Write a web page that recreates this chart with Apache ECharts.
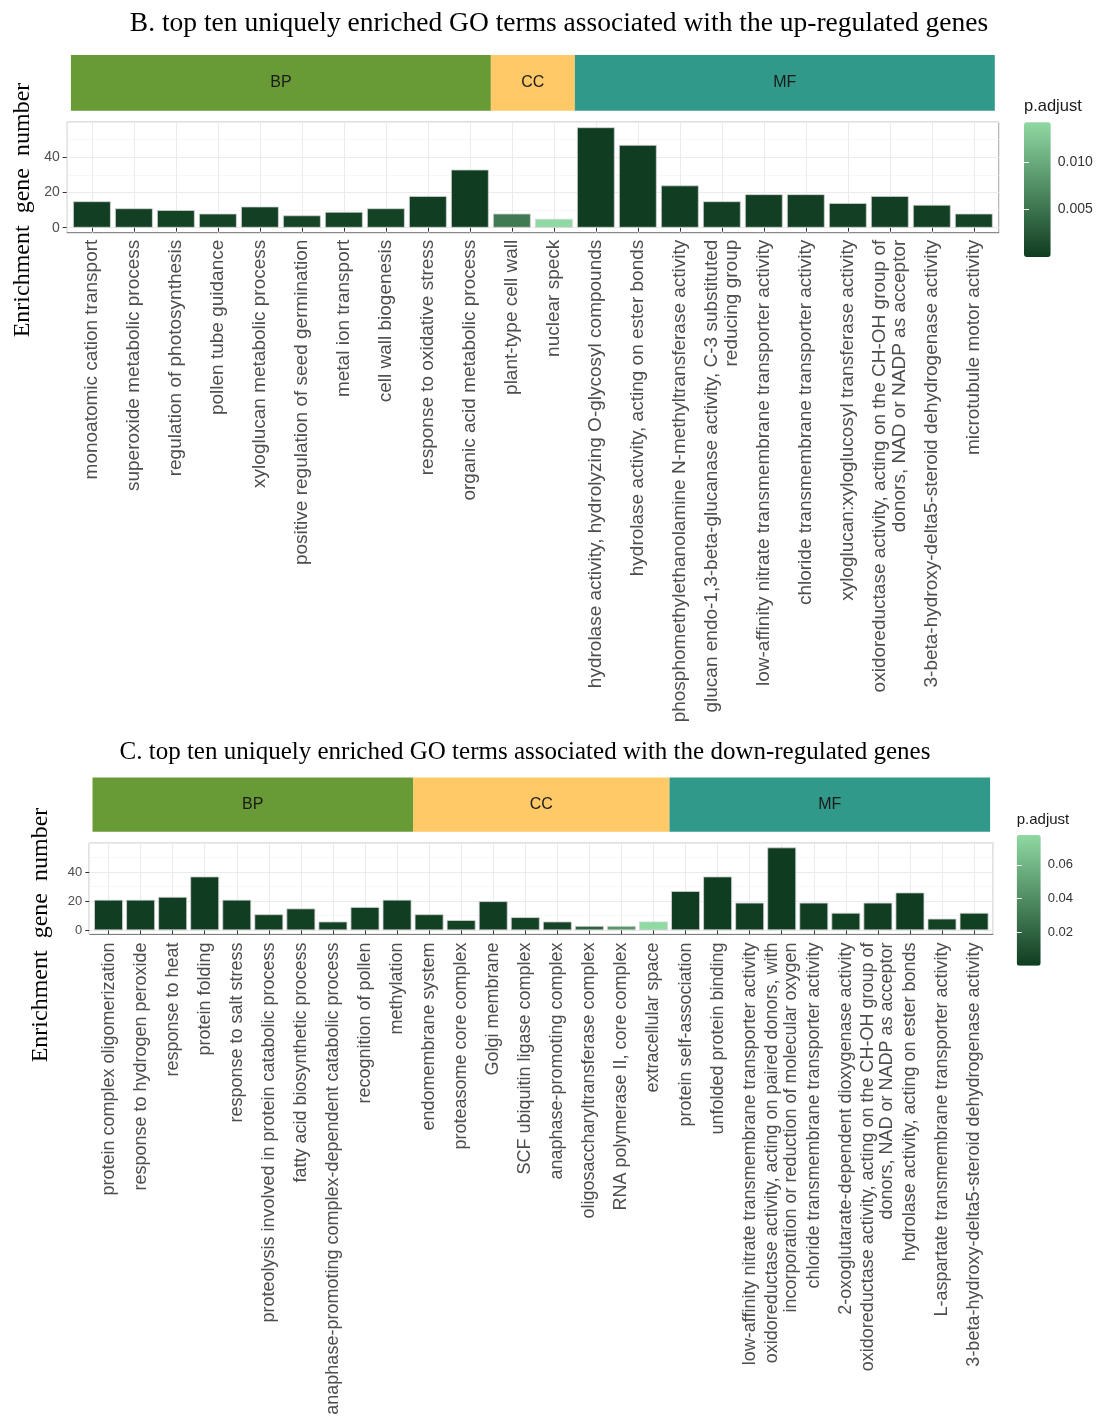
<!DOCTYPE html>
<html>
<head>
<meta charset="utf-8">
<script src="https://cdn.jsdelivr.net/npm/echarts@6/dist/echarts.min.js"></script>
<style>
  html, body { margin: 0; padding: 0; background: #fff; }
  #chart { width: 1096px; height: 1421px; }
</style>
</head>
<body>
<div id="chart"></div>
<script>
// B. up-regulated
const upCategories = [
  "monoatomic cation transport",
  "superoxide metabolic process",
  "regulation of photosynthesis",
  "pollen tube guidance",
  "xyloglucan metabolic process",
  "positive regulation of seed germination",
  "metal ion transport",
  "cell wall biogenesis",
  "response to oxidative stress",
  "organic acid metabolic process",
  "plant-type cell wall",
  "nuclear speck",
  "hydrolase activity, hydrolyzing O-glycosyl compounds",
  "hydrolase activity, acting on ester bonds",
  "phosphomethylethanolamine N-methyltransferase activity",
  "glucan endo-1,3-beta-glucanase activity, C-3 substituted\nreducing group",
  "low-affinity nitrate transmembrane transporter activity",
  "chloride transmembrane transporter activity",
  "xyloglucan:xyloglucosyl transferase activity",
  "oxidoreductase activity, acting on the CH-OH group of\ndonors, NAD or NADP as acceptor",
  "3-beta-hydroxy-delta5-steroid dehydrogenase activity",
  "microtubule motor activity",
];
const upGeneNumber = [15, 11, 10, 8, 12, 7, 9, 11, 18, 33, 8, 5, 57, 47, 24, 15, 19, 19, 14, 18, 13, 8];
const upPAdjust = [0.0003, 0.0004, 0.0005, 0.0006, 0.0004, 0.0007, 0.0006, 0.0005, 0.0002, 0.0001, 0.0055, 0.0142,
  0.0001, 0.0001, 0.0002, 0.0004, 0.0003, 0.0003, 0.0004, 0.0003, 0.0004, 0.0006];
const upGroups = ["BP", "CC", "MF"];
const upGroupSizes = [10, 2, 10];
const upLegendTicks = [0.005, 0.01];

// C. down-regulated
const downCategories = [
  "protein complex oligomerization",
  "response to hydrogen peroxide",
  "response to heat",
  "protein folding",
  "response to salt stress",
  "proteolysis involved in protein catabolic process",
  "fatty acid biosynthetic process",
  "anaphase-promoting complex-dependent catabolic process",
  "recognition of pollen",
  "methylation",
  "endomembrane system",
  "proteasome core complex",
  "Golgi membrane",
  "SCF ubiquitin ligase complex",
  "anaphase-promoting complex",
  "oligosaccharyltransferase complex",
  "RNA polymerase II, core complex",
  "extracellular space",
  "protein self-association",
  "unfolded protein binding",
  "low-affinity nitrate transmembrane transporter activity",
  "oxidoreductase activity, acting on paired donors, with\nincorporation or reduction of molecular oxygen",
  "chloride transmembrane transporter activity",
  "2-oxoglutarate-dependent dioxygenase activity",
  "oxidoreductase activity, acting on the CH-OH group of\ndonors, NAD or NADP as acceptor",
  "hydrolase activity, acting on ester bonds",
  "L-aspartate transmembrane transporter activity",
  "3-beta-hydroxy-delta5-steroid dehydrogenase activity",
];
const downGeneNumber = [21, 21, 23, 37, 21, 11, 15, 6, 16, 21, 11, 7, 20, 9, 6, 3, 3, 6, 27, 37, 19, 57, 19, 12, 19, 26, 8, 12];
const downPAdjust = [0.001, 0.001, 0.001, 0.0005, 0.001, 0.002, 0.002, 0.003, 0.002, 0.001, 0.002, 0.003, 0.001, 0.003, 0.004,
  0.018, 0.045, 0.0778, 0.0005, 0.0003, 0.001, 0.0001, 0.001, 0.002, 0.001, 0.0005, 0.003, 0.002];
const downGroups = ["BP", "CC", "MF"];
const downGroupSizes = [10, 8, 10];
const downLegendTicks = [0.02, 0.04, 0.06];

const groupColors = { BP: "#689a35", CC: "#fec966", MF: "#31998a" };
const SANS = "'Liberation Sans', Arial, sans-serif";
const SERIF = "'Liberation Serif', 'Times New Roman', serif";
const hidden = { show: false };

const option = {
  backgroundColor: "#fff",
  animation: false,
  grid: [], xAxis: [], yAxis: [], series: [], visualMap: [], graphic: [],
};

function addGrid(grid, xAxis, yAxis) {
  option.grid.push(grid);
  const gridIndex = option.grid.length - 1;
  option.xAxis.push({ ...xAxis, gridIndex });
  option.yAxis.push({ ...yAxis, gridIndex });
  return { gridIndex, xi: option.xAxis.length - 1, yi: option.yAxis.length - 1 };
}

function addText(text, x, y, size, family, extra = {}) {
  option.graphic.push({
    type: "text", x, y, rotation: extra.rotation || 0, silent: true,
    style: { text, fontSize: size, fontFamily: family, fill: extra.fill || "#000",
      align: extra.align || "center", verticalAlign: "middle" },
  });
}

function addPanel(p) {
  const n = p.categories.length;
  const vmax = Math.max(...p.values);
  const yMax = vmax * 1.05, yMin = -vmax * 0.05;
  const k = (p.frameBottom - p.frameTop) / (yMax - yMin);
  const zeroY = p.frameBottom + yMin * k;
  const unit = (p.frameRight - p.frameLeft) / (n + 0.2);
  const barLeft = p.frameLeft + 0.1 * unit;
  const barWidthPx = (p.frameRight - p.frameLeft) - 0.2 * unit;

  // panel frame + vertical grid lines at category centres
  addGrid(
    { left: p.frameLeft, top: p.frameTop, width: p.frameRight - p.frameLeft, height: p.frameBottom - p.frameTop,
      show: true, borderColor: "#6e6e6e", borderWidth: 1, backgroundColor: "#fff" },
    { type: "value", min: -0.6, max: n - 0.4, splitNumber: n, axisLine: hidden, axisTick: hidden, axisLabel: hidden,
      splitLine: { show: true, lineStyle: { color: "#ebebeb", width: 1 } } },
    { type: "value", min: 0, max: 1, show: false }
  );

  // y axis + horizontal grid lines
  addGrid(
    { left: p.frameLeft, top: p.frameTop, width: p.frameRight - p.frameLeft, height: zeroY - p.frameTop },
    { type: "value", min: 0, max: 1, show: false },
    { type: "value", min: 0, max: yMax, interval: 20, axisLine: hidden,
      axisTick: { show: true, length: 4, lineStyle: { color: "#333", width: 1 } },
      axisLabel: { showMaxLabel: false, fontSize: p.tickSize, color: "#4d4d4d", fontFamily: SANS, margin: 7 },
      splitLine: { show: true, lineStyle: { color: "#ebebeb", width: 1.1 } },
      minorTick: { show: false, splitNumber: 2 },
      minorSplitLine: { show: true, lineStyle: { color: "#f1f1f1", width: 0.6 } } }
  );

  // bars
  const bars = addGrid(
    { left: barLeft, top: p.frameTop, width: barWidthPx, height: p.frameBottom - p.frameTop },
    { type: "category", data: p.categories, axisLine: hidden, splitLine: hidden,
      axisTick: { show: true, alignWithLabel: true, length: 4, lineStyle: { color: "#333", width: 1 } },
      axisLabel: { interval: 0, rotate: 90, fontSize: p.labelSize, lineHeight: p.labelSize * 1.05,
        color: "#4d4d4d", fontFamily: SANS, margin: p.labelMargin } },
    { type: "value", min: yMin, max: yMax, show: false }
  );
  option.series.push({
    type: "bar", xAxisIndex: bars.xi, yAxisIndex: bars.yi, barWidth: "90%",
    data: p.categories.map((c, i) => [c, p.values[i], p.pAdjust[i]]),
    encode: { x: 0, y: 1 },
    itemStyle: { borderColor: "#d4d4d4", borderWidth: 0.8 },
  });
  const barSeries = option.series.length - 1;

  // group strip
  const strip = addGrid(
    { left: barLeft, top: p.stripTop, width: barWidthPx, height: p.stripBottom - p.stripTop },
    { type: "value", min: 0, max: n, show: false },
    { type: "category", data: ["group"], show: false }
  );
  p.groups.forEach((g, j) => {
    option.series.push({
      type: "bar", xAxisIndex: strip.xi, yAxisIndex: strip.yi, stack: "strip" + p.id, barWidth: "100%",
      data: [p.groupSizes[j]], itemStyle: { color: groupColors[g] }, silent: true,
      label: { show: true, position: "inside", formatter: g, fontSize: 16, fontFamily: SANS, color: "#1a1a1a" },
    });
  });

  // colour legend
  const pMax = p.pMax;
  option.visualMap.push({
    type: "continuous", seriesIndex: barSeries, dimension: 2, min: 0, max: pMax,
    inRange: { color: ["#0f3c20", "#8fd9a2"] },
    left: p.legendLeft, top: p.legendTop, itemWidth: p.legendW, itemHeight: p.legendH,
    padding: 0, calculable: false, hoverLink: false,
  });
  const leg = addGrid(
    { left: p.legendLeft, top: p.legendTop, width: p.legendW, height: p.legendH, z: 10 },
    { type: "value", min: 0, max: 1, show: false },
    { type: "value", position: "right", min: 0, max: pMax, interval: p.legendTicks[1] - p.legendTicks[0], z: 10,
      axisLine: hidden, splitLine: hidden,
      axisTick: { show: true, inside: true, length: 5, customValues: p.legendTicks, lineStyle: { color: "#fff", width: 1 } },
      axisLabel: { customValues: p.legendTicks,
        formatter: (v) => v.toFixed(p.legendDigits), fontSize: p.legendLabelSize, color: "#333", fontFamily: SANS, margin: 7 } }
  );
  option.yAxis.push({
    gridIndex: leg.gridIndex, type: "value", position: "left", min: 0, max: pMax,
    interval: p.legendTicks[1] - p.legendTicks[0], z: 10,
    axisLine: hidden, splitLine: hidden, axisLabel: hidden,
    axisTick: { show: true, inside: true, length: 5, customValues: p.legendTicks, lineStyle: { color: "#fff", width: 1 } },
  });
  addText("p.adjust", p.legendLeft, p.legendTitleY, p.legendTitleSize, SANS, { align: "left", fill: "#1a1a1a" });

  // titles
  addText(p.title, p.titleX, p.titleY, p.titleSize, SERIF);
  addText("Enrichment  gene  number", p.yTitleX, p.yTitleY, 24, SERIF, { rotation: Math.PI / 2 });
}

addPanel({
  id: "up", categories: upCategories, values: upGeneNumber, pAdjust: upPAdjust,
  groups: upGroups, groupSizes: upGroupSizes,
  frameLeft: 66.7, frameRight: 999, frameTop: 122.3, frameBottom: 232.7,
  stripTop: 55, stripBottom: 110.7,
  tickSize: 14, labelSize: 19, labelMargin: 7,
  pMax: 0.0142, legendTicks: upLegendTicks, legendDigits: 3,
  legendLeft: 1024, legendTop: 122.3, legendW: 26.7, legendH: 134.7,
  legendTitleY: 106, legendTitleSize: 16.5, legendLabelSize: 14,
  title: "B. top ten uniquely enriched GO terms associated with the up-regulated genes",
  titleX: 559, titleY: 24, titleSize: 27.5,
  yTitleX: 23, yTitleY: 210,
});

addPanel({
  id: "down", categories: downCategories, values: downGeneNumber, pAdjust: downPAdjust,
  groups: downGroups, groupSizes: downGroupSizes,
  frameLeft: 89.3, frameRight: 993.3, frameTop: 843.3, frameBottom: 934.4,
  stripTop: 777.5, stripBottom: 831.7,
  tickSize: 13, labelSize: 18, labelMargin: 8,
  pMax: 0.0778, legendTicks: downLegendTicks, legendDigits: 2,
  legendLeft: 1016.7, legendTop: 835, legendW: 24, legendH: 130.7,
  legendTitleY: 820, legendTitleSize: 15, legendLabelSize: 13,
  title: "C. top ten uniquely enriched GO terms associated with the down-regulated genes",
  titleX: 525, titleY: 752, titleSize: 25,
  yTitleX: 41, yTitleY: 935,
});

const chart = echarts.init(document.getElementById("chart"), null, { renderer: "canvas" });
chart.setOption(option);
</script>
</body>
</html>
